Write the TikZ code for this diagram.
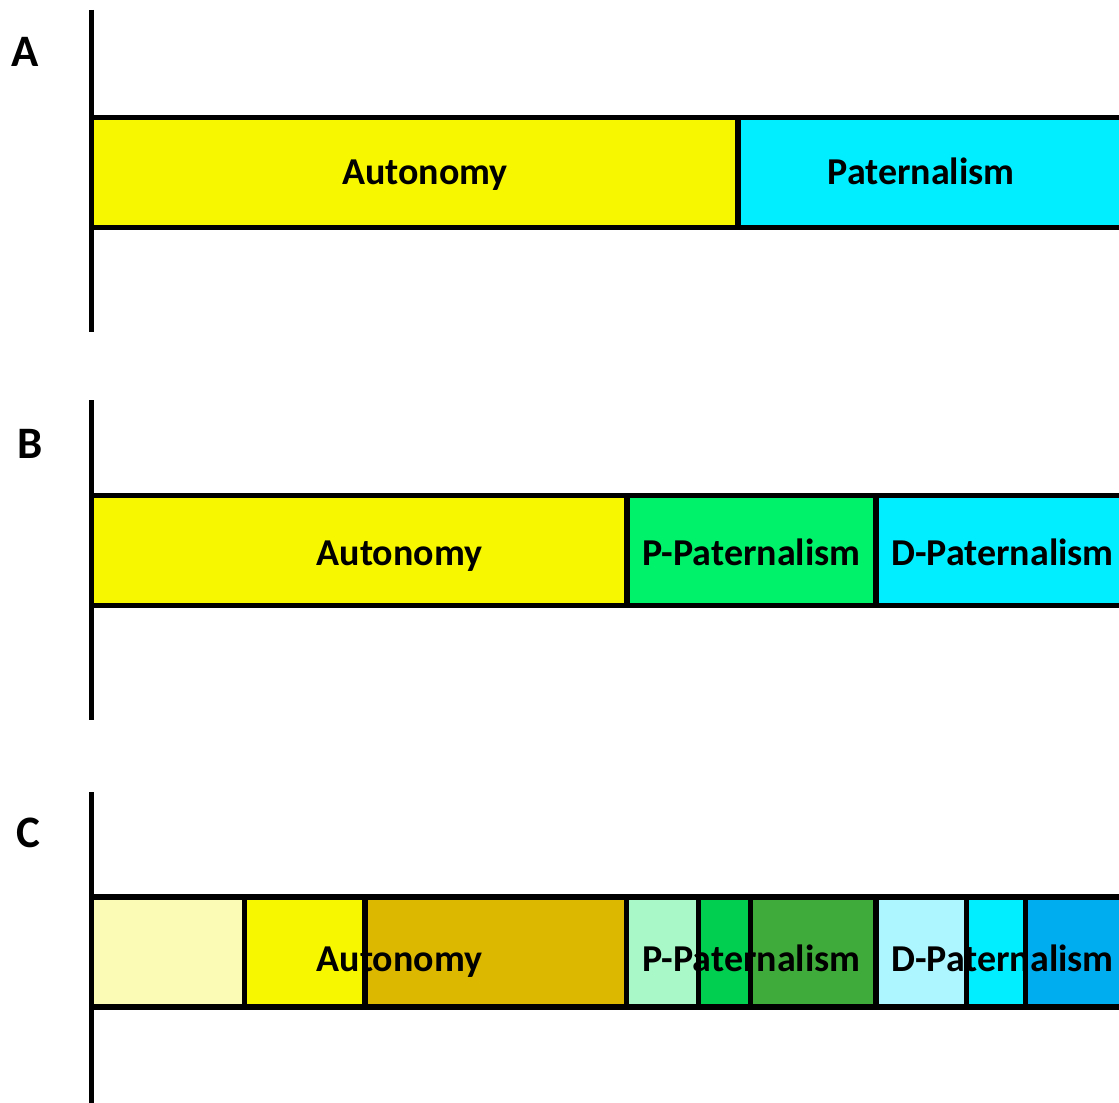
\documentclass[tikz,border=0pt]{standalone}
\usepackage{fontspec}
\setmainfont{Carlito}
\usetikzlibrary{positioning}

\definecolor{autoyellow}{RGB}{247,247,0}
\definecolor{paleyellow}{RGB}{251,251,181}
\definecolor{goldauto}{RGB}{221,184,0}
\definecolor{pgreen}{RGB}{0,242,106}
\definecolor{palegreen}{RGB}{168,248,200}
\definecolor{midgreen}{RGB}{0,207,80}
\definecolor{darkgreen}{RGB}{63,171,58}
\definecolor{dcyan}{RGB}{0,238,255}
\definecolor{palecyan}{RGB}{173,246,255}
\definecolor{deepblue}{RGB}{0,174,239}

\begin{document}
\begin{tikzpicture}[x=0.025cm, y=-0.025cm, node distance=0pt,
    seg/.style={fill=#1, minimum height=2.75cm, inner sep=0pt, outer sep=0pt},
    segw/.style={minimum width=#1*0.025cm},
    rim/.style={line width=3.6pt},
    axis/.style={line width=3.6pt},
    tag/.style={anchor=base, inner sep=0pt, font=\bfseries\fontsize{27}{30}\selectfont},
    panel/.style={font=\bfseries\fontsize{32}{36}\selectfont}]
    \clip (0,0) rectangle (1119,1103);

    % panel A
    \node[panel] (la) at (25,52) {A};
    \node[seg=autoyellow, segw=646.5, anchor=west] (a1) at (91.5,172.5) {};
    \node[seg=dcyan, segw=400, right=of a1] (a2) {};
    \node[tag] (ta1) at (425,185) {Autonomy};
    \node[tag] (ta2) at (921,185) {Paternalism};
    \foreach \n in {a1,a2}
        \draw[rim] (\n.north west) rectangle (\n.south east);
    \coordinate (atop) at (91.5,10);
    \coordinate (abot) at (91.5,332);
    \draw[axis] (atop) -- (abot);

    % panel B
    \node[panel] (lb) at (30,444) {B};
    \node[seg=autoyellow, segw=535.5, anchor=west] (b1) at (91.5,550.5) {};
    \node[seg=pgreen, segw=249, right=of b1] (b2) {};
    \node[seg=dcyan, segw=260, right=of b2] (b3) {};
    \node[tag] (tb1) at (399.5,565) {Autonomy};
    \node[tag] (tb2) at (751.5,565) {P-Paternalism};
    \node[tag] (tb3) at (1002.5,565) {D-Paternalism};
    \foreach \n in {b1,b2,b3}
        \draw[rim] (\n.north west) rectangle (\n.south east);
    \coordinate (btop) at (91.5,400);
    \coordinate (bbot) at (91.5,720);
    \draw[axis] (btop) -- (bbot);

    % panel C
    \node[panel] (lc) at (28,833) {C};
    \node[seg=paleyellow, segw=153, anchor=west] (c1) at (91.5,952) {};
    \node[seg=autoyellow, segw=120.5, right=of c1] (c2) {};
    \node[seg=goldauto, segw=261.5, right=of c2] (c3) {};
    \node[seg=palegreen, segw=72, right=of c3] (c4) {};
    \node[seg=midgreen, segw=52, right=of c4] (c5) {};
    \node[seg=darkgreen, segw=125.5, right=of c5] (c6) {};
    \node[seg=palecyan, segw=90.5, right=of c6] (c7) {};
    \node[seg=dcyan, segw=59, right=of c7] (c8) {};
    \node[seg=deepblue, segw=110, right=of c8] (c9) {};
    \node[tag] (tc1) at (399.5,971) {Autonomy};
    \node[tag] (tc2) at (751.5,971) {P-Paternalism};
    \node[tag] (tc3) at (1002.5,971) {D-Paternalism};
    \foreach \n in {c1,c2,c3,c4,c5,c6,c7,c8,c9}
        \draw[rim] (\n.north west) rectangle (\n.south east);
    \coordinate (ctop) at (91.5,792);
    \coordinate (cbot) at (91.5,1110);
    \draw[axis] (ctop) -- (cbot);
\end{tikzpicture}
\end{document}
